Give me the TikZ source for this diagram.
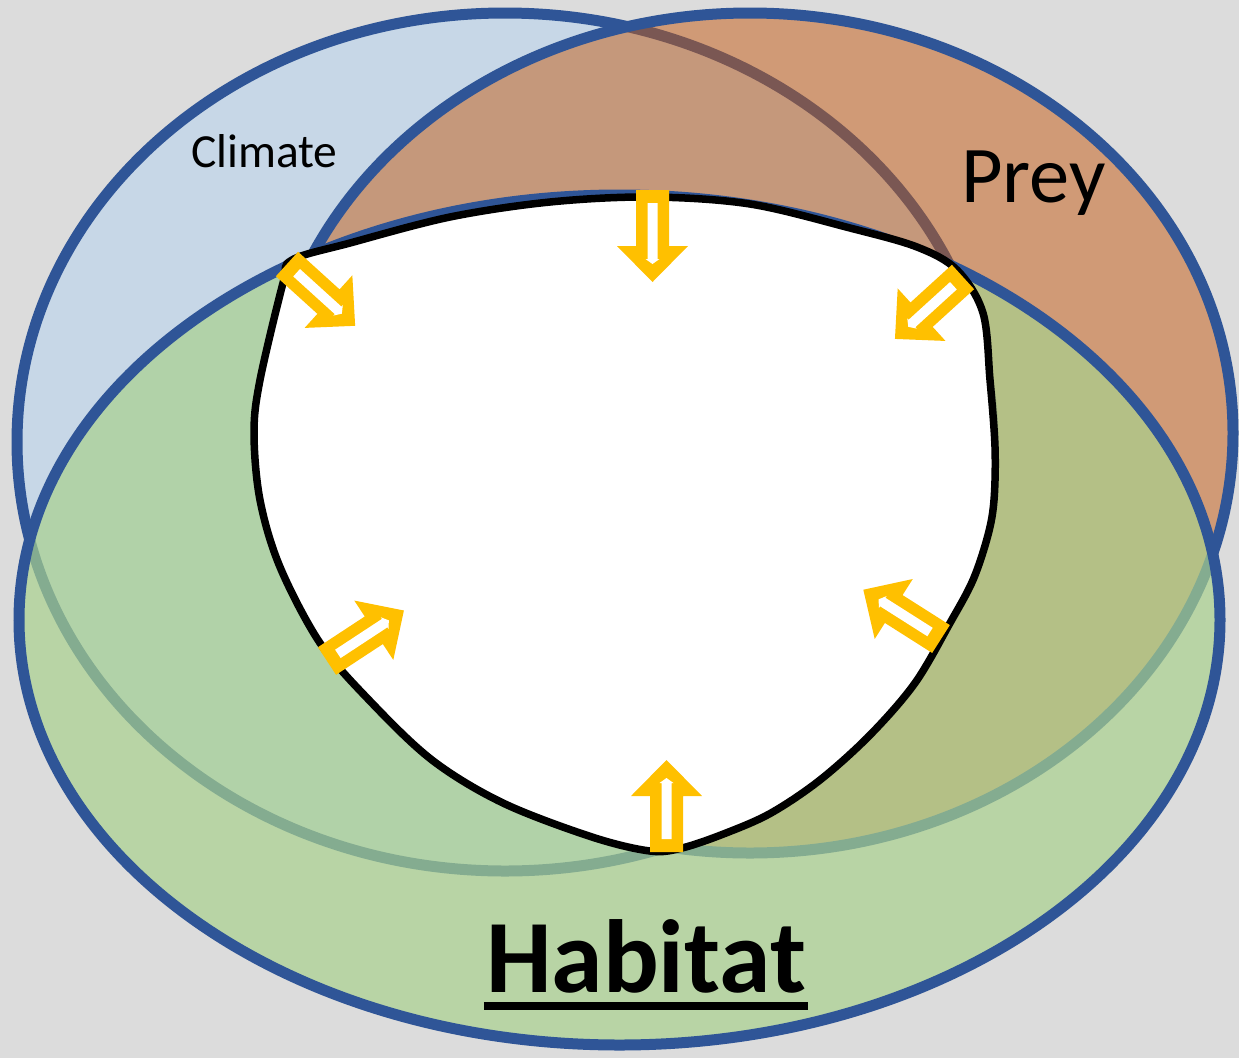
\documentclass[tikz,border=0pt]{standalone}
\usepackage{fontspec}
\setmainfont{Carlito}
\usetikzlibrary{calc}
\definecolor{bgc}{HTML}{DCDCDC}
\definecolor{ringblue}{HTML}{2F5597}
\definecolor{climfill}{HTML}{C7D7E7}
\definecolor{preyfill}{HTML}{C55A11}
\definecolor{habfill}{HTML}{A9D18E}
\definecolor{arrowyel}{HTML}{FFC000}
\tikzset{
  ring/.style={draw=ringblue, line width=11pt},
  lbl/.style={inner sep=0pt, text=black},
  yarrow/.pic={
    \fill[arrowyel] (0,-16.5) -- (56,-16.5) -- (56,-35.5) -- (92,0) -- (56,35.5) -- (56,16.5) -- (0,16.5) -- cycle;
    \fill[white] (13,-5) -- (69,-5) -- (69,-7) -- (74,0) -- (69,7) -- (69,5) -- (13,5) -- cycle;
  }
}
\begin{document}
\begin{tikzpicture}[x=1pt,y=-1pt]
\useasboundingbox (0,0) rectangle (1239,1058);
\clip (0,0) rectangle (1239,1058);
\fill[bgc] (0,0) rectangle (1239,1058);
% Climate
\path[ring, fill=climfill] (505,442) ellipse [x radius=488pt, y radius=429pt];
% Prey
\path[ring, fill=preyfill, fill opacity=0.5] (750,433) ellipse [x radius=483pt, y radius=420pt];
% Habitat
\path[ring, fill=habfill, fill opacity=0.7] (619.5,620) ellipse [x radius=600.5pt, y radius=425pt];
% niche blob
\filldraw[fill=white, draw=black, line width=7.5pt] plot[smooth cycle, tension=0.55] coordinates {
  (292,260) (350,243) (450,217) (550,202) (650,197) (750,204) (850,228) (917,247) (957,270)
  (983,313) (990,380) (995,447) (994,500) (988,535) (973,580) (950,623) (915,683) (870,735)
  (820,780) (771,813) (726,833) (682,848) (650,851) (592,837) (503,803) (432,760) (369,700)
  (320,643) (280,567) (260,500) (254,433) (260,380) (283,283)};
% arrows
\pic[rotate=-90] at (652.5,190) {yarrow};
\pic[rotate=-42.2] at (287,264) {yarrow};
\pic[rotate=-137.7] at (963,277) {yarrow};
\pic[rotate=33.3] at (327,661) {yarrow};
\pic[rotate=147.6] at (941,639) {yarrow};
\pic[rotate=90] at (666.5,852) {yarrow};
% labels
\node[lbl, anchor=base west, font=\fontsize{47.5}{57}\selectfont] (climate) at (191,167) {Climate};
\node[lbl, anchor=base west, font=\fontsize{80.5}{96}\selectfont] (prey) at (961,202) {Prey};
\node[lbl, anchor=base, font=\fontsize{104}{125}\selectfont\bfseries] (habitat) at (646,992) {Habitat};
\draw[line width=8pt] ($(habitat.base west)+(-2,14)$) -- ($(habitat.base east)+(2,14)$);
\end{tikzpicture}
\end{document}
